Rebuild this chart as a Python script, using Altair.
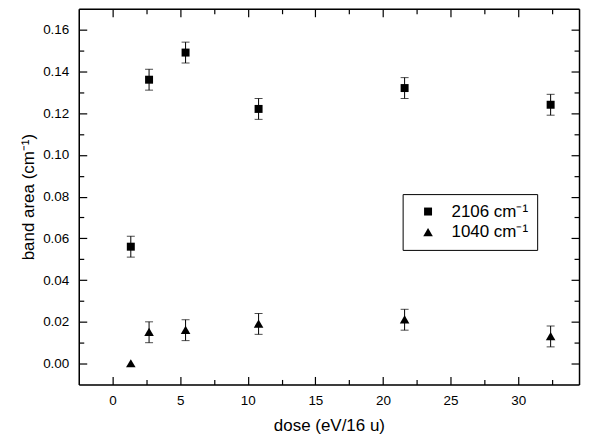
import altair as alt
import pandas as pd

# ---- data ----
dose = [1.35, 2.7, 5.4, 10.8, 21.6, 32.4]
area_2106 = [0.056, 0.136, 0.149, 0.122, 0.132, 0.124]
err_2106 = [0.005, 0.005, 0.005, 0.005, 0.005, 0.005]
area_1040 = [0.000, 0.015, 0.016, 0.019, 0.021, 0.013]
err_1040 = [0.0, 0.005, 0.005, 0.005, 0.005, 0.005]
series_names = ["2106 cm\u207b\u00b9", "1040 cm\u207b\u00b9"]

x_ticks_all = [i * 2.5 for i in range(0, 14)]
x_ticks_major = [0, 5, 10, 15, 20, 25, 30]
y_ticks_all = [round(i * 0.01, 2) for i in range(0, 17)]
y_ticks_major = [0.0, 0.02, 0.04, 0.06, 0.08, 0.10, 0.12, 0.14, 0.16]

rows = []
for d, a, e in zip(dose, area_2106, err_2106):
    rows.append({"dose": d, "area": a, "err": e, "series": series_names[0]})
for d, a, e in zip(dose, area_1040, err_1040):
    rows.append({"dose": d, "area": a, "err": e, "series": series_names[1]})
df = pd.DataFrame(rows)
df["lo"] = df["area"] - df["err"]
df["hi"] = df["area"] + df["err"]

W, H = 502, 377
FONT = "Liberation Sans"
TRIANGLE = "M0,-1.1L1.2,0.95L-1.2,0.95Z"

xscale = alt.Scale(domain=[-2.5, 34.5], nice=False, zero=False)
yscale = alt.Scale(domain=[-0.01, 0.17], nice=False, zero=False)

x_tick_size = {"condition": {"test": "datum.value % 5 === 0", "value": 8}, "value": 5}
y_tick_size = {"condition": {"test": "round(datum.value * 100) % 2 === 0", "value": 8}, "value": 5}

# labelled axes (outside, no ticks)
x_lab = alt.Axis(orient="bottom", values=x_ticks_major, ticks=False, tickSize=0,
                 labelPadding=9, labelFontSize=13.5, labelFont=FONT, labelColor="black",
                 title="dose (eV/16 u)", titleFont=FONT, titleFontSize=17,
                 titleFontWeight="normal", titleColor="black", titlePadding=11,
                 domainColor="black", domainWidth=1.5, grid=False)
y_lab = alt.Axis(orient="left", values=y_ticks_major, ticks=False, tickSize=0,
                 format=".2f", labelPadding=10, labelFontSize=13.5, labelFont=FONT,
                 labelColor="black",
                 title="band area (cm\u207b\u00b9)", titleFont=FONT, titleFontSize=17,
                 titleFontWeight="normal", titleColor="black", titlePadding=5,
                 domainColor="black", domainWidth=1.5, grid=False)

# inward ticks at bottom / left
x_in_bottom = alt.Axis(orient="top", offset=-H, values=x_ticks_all, labels=False,
                       domain=False, grid=False, title=None, tickColor="black",
                       tickWidth=1.2, tickSize=x_tick_size)
y_in_left = alt.Axis(orient="right", offset=-W, values=y_ticks_all, labels=False,
                     domain=False, grid=False, title=None, tickColor="black",
                     tickWidth=1.2, tickSize=y_tick_size)
# inward ticks + frame at top / right
x_in_top = alt.Axis(orient="bottom", offset=-H, values=x_ticks_all, labels=False,
                    domain=True, domainColor="black", domainWidth=1.5, grid=False,
                    title=None, tickColor="black", tickWidth=1.2, tickSize=x_tick_size)
y_in_right = alt.Axis(orient="left", offset=-W, values=y_ticks_all, labels=False,
                      domain=True, domainColor="black", domainWidth=1.5, grid=False,
                      title=None, tickColor="black", tickWidth=1.2, tickSize=y_tick_size)

base = alt.Chart(df)

points = base.mark_point(filled=True, color="black", opacity=1, size=64).encode(
    x=alt.X("dose:Q", scale=xscale, axis=x_lab),
    y=alt.Y("area:Q", scale=yscale, axis=y_lab),
    shape=alt.Shape("series:N",
                    scale=alt.Scale(domain=series_names, range=["square", TRIANGLE]),
                    legend=alt.Legend(title=None, orient="none", legendX=325, legendY=186,
                                      strokeColor="black", fillColor="white", padding=9,
                                      symbolOffset=8, labelOffset=15, rowPadding=3,
                                      labelFont=FONT, labelFontSize=17, labelColor="black",
                                      symbolSize=64, symbolFillColor="black",
                                      symbolStrokeWidth=0)),
)

err = base.transform_filter("datum.err > 0")

rules = err.mark_rule(color="black", strokeWidth=1).encode(
    x=alt.X("dose:Q", scale=xscale, axis=x_in_bottom),
    y=alt.Y("lo:Q", scale=yscale, axis=y_in_left),
    y2="hi:Q",
)
caps_lo = err.mark_tick(color="black", orient="horizontal", size=8, thickness=1).encode(
    x=alt.X("dose:Q", scale=xscale, axis=x_in_top),
    y=alt.Y("lo:Q", scale=yscale, axis=y_in_right),
)
caps_hi = err.mark_tick(color="black", orient="horizontal", size=8, thickness=1).encode(
    x=alt.X("dose:Q", scale=xscale, axis=None),
    y=alt.Y("hi:Q", scale=yscale, axis=None),
)

chart = alt.layer(rules, caps_lo, caps_hi, points).resolve_scale(
    x="shared", y="shared"
).resolve_axis(x="independent", y="independent").properties(
    width=W, height=H,
    autosize=alt.AutoSizeParams(type="none"),
    padding={"left": 71, "top": 0, "right": 8, "bottom": 52},
).configure_view(stroke=None).configure(background="white")

chart.save("out.html", embed_options={"renderer": "svg", "actions": False})
